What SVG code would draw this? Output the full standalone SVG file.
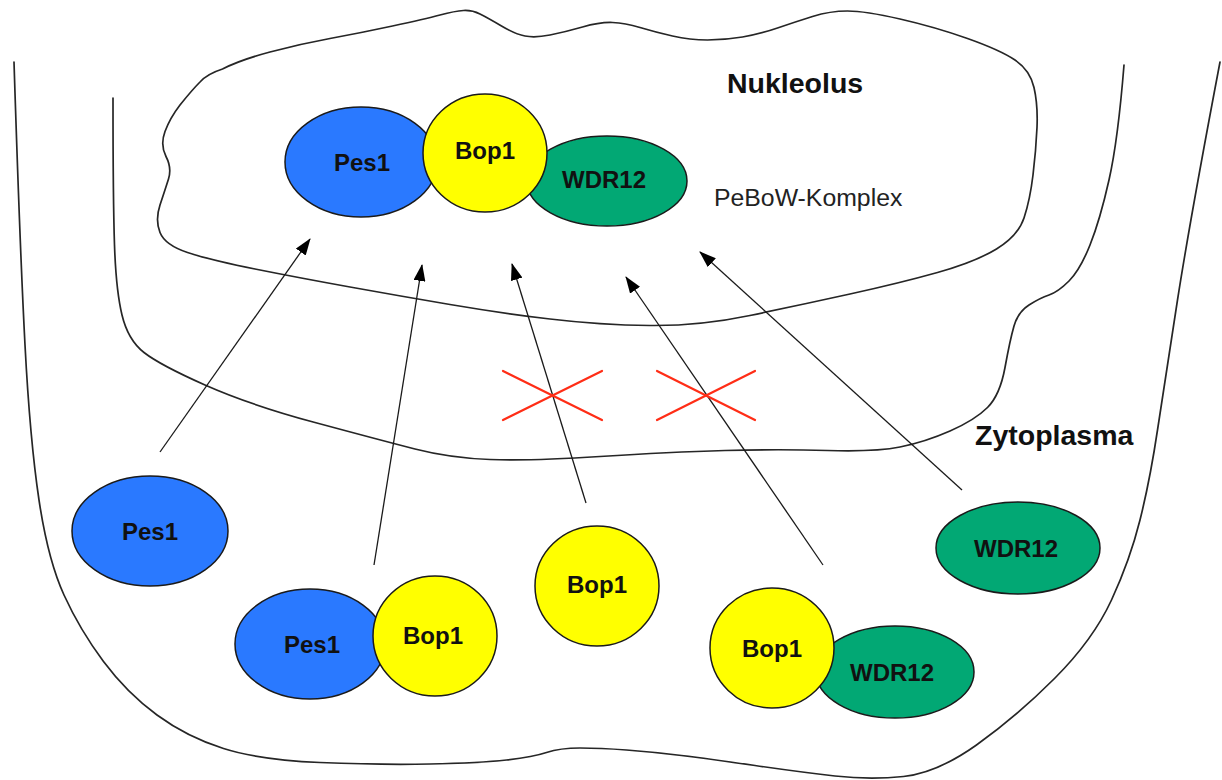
<svg xmlns="http://www.w3.org/2000/svg" width="1222" height="780" viewBox="0 0 1222 780">
<style>
.mem{fill:none;stroke:#262626;stroke-width:1.7;stroke-linejoin:round;stroke-linecap:round}
.blue{fill:#2a79ff;stroke:#1a1a1a;stroke-width:1.5}
.yellow{fill:#ffff00;stroke:#1a1a1a;stroke-width:1.5}
.green{fill:#02a874;stroke:#1a1a1a;stroke-width:1.5}
.lbl{font-family:"Liberation Sans",Arial,sans-serif;font-weight:bold;font-size:24px;fill:#111;text-anchor:middle}
.big{font-family:"Liberation Sans",Arial,sans-serif;font-weight:bold;font-size:28.5px;fill:#111}
.note{font-family:"Liberation Sans",Arial,sans-serif;font-size:24.8px;fill:#222}
.arr{stroke:#1a1a1a;stroke-width:1.3;fill:none}
.x{stroke:#ff2d16;stroke-width:2.2;stroke-linecap:round}
</style>
<defs>
<marker id="ah" viewBox="0 0 17 12" markerWidth="17" markerHeight="12" refX="16" refY="6" orient="auto" markerUnits="userSpaceOnUse">
<path d="M0,0 L17,6 L0,12 z" fill="#000"/>
</marker>
</defs>
<rect width="1222" height="780" fill="#fff"/>

<g id="cell">
<path class="mem" d="M14,62 Q20,250 25,345 Q30,440 39,500 Q48,560 64,595 Q80,630 103.5,661.5 Q127,693 157,715 Q187,737 223.5,748.5 Q260,760 320,762.5 Q380,765 430,764 Q480,763 506.5,760 Q533,757 546.5,752.5 Q560,748 580,748 Q600,748 626.5,750 Q653,752 681.5,755.5 Q710,759 755,765.5 Q800,772 835,776 Q870,780 903.5,776.5 Q937,773 976.5,745 Q1016,717 1054.5,678.5 Q1093,640 1111.5,600 Q1130,560 1140,520 Q1150,480 1157.5,430 Q1165,380 1177.5,300 Q1190,220 1220,62"/>
</g>
<g id="nucleus">
<path class="mem" d="M113,98 Q113,200 114.5,245 Q116,290 122,315 Q128,340 144,352.5 Q160,365 205,385 Q250,405 315,422.5 Q380,440 415,449 Q450,458 490,459.5 Q530,461 600,456.5 Q670,452 725,450.5 Q780,449 827.5,450.5 Q875,452 900,447 Q925,442 950,431 Q975,420 987.5,407.5 Q1000,395 1005,367.5 Q1010,340 1014,326 Q1018,312 1029,305 Q1040,298 1049,295 Q1058,292 1069,281 Q1080,270 1090,245 Q1100,220 1109,180 Q1118,140 1124,65"/>
</g>
<g id="nucleolus">
<path class="mem" d="M200,82 Q207,74 222.5,69 Q240,60 270,52 Q300,44 330,38.5 Q360,33 392.5,26 Q425,19 440,15 Q455,11 463.5,10.5 Q472,10 480,14 Q488,18 501.5,26 Q515,34 525,36 Q535,38 550,35 Q565,32 582.5,27 Q600,22 612.5,22.5 Q625,23 640,27.5 Q655,32 672.5,36 Q690,40 707.5,40 Q725,40 742.5,37 Q760,34 777.5,28 Q795,22 812.5,16.5 Q830,11 847.5,11 Q865,11 900,19 Q935,27 967.5,38.5 Q1000,50 1015,60 Q1030,70 1034,87.5 Q1038,105 1037,127.5 Q1036,150 1033,175 Q1030,200 1024,218 Q1018,236 996.5,249 Q975,262 937.5,272.5 Q900,283 850,294 Q800,305 750,315.5 Q700,326 650,325.5 Q600,325 550,319 Q500,313 450,304.5 Q400,296 350,287 Q300,278 255,269 Q210,260 187.5,252.5 Q165,245 160,232.5 Q155,220 160,205 Q165,190 168.5,179 Q172,168 166,156.5 Q160,145 165,131.5 Q170,118 180,105 Q192,90 200,82 Z"/>
</g>

<g id="labels">
<text class="big" x="727" y="93">Nukleolus</text>
<text class="big" x="975" y="445">Zytoplasma</text>
<text class="note" x="714" y="206">PeBoW-Komplex</text>
</g>

<g id="connectors">
<line class="arr" x1="160" y1="452" x2="310" y2="239" marker-end="url(#ah)"/>
<line class="arr" x1="374" y1="565" x2="422" y2="265" marker-end="url(#ah)"/>
<line class="arr" x1="586" y1="503" x2="512" y2="264" marker-end="url(#ah)"/>
<line class="arr" x1="823" y1="565" x2="626" y2="277" marker-end="url(#ah)"/>
<line class="arr" x1="962" y1="490" x2="700" y2="252" marker-end="url(#ah)"/>
</g>

<g id="block1">
<line class="x" x1="503" y1="371" x2="602" y2="420"/>
<line class="x" x1="503" y1="420" x2="602" y2="371"/>
</g>
<g id="block2">
<line class="x" x1="657" y1="371" x2="755" y2="420"/>
<line class="x" x1="657" y1="420" x2="755" y2="371"/>
</g>

<g id="complex">
<ellipse class="blue" cx="361" cy="162" rx="76" ry="55"/>
<ellipse class="green" cx="607" cy="181" rx="80" ry="45"/>
<ellipse class="yellow" cx="485" cy="153" rx="62" ry="59"/>
<text class="lbl" x="362" y="171">Pes1</text>
<text class="lbl" x="485" y="159">Bop1</text>
<text class="lbl" x="604" y="188">WDR12</text>
</g>

<g id="pes1-free">
<ellipse class="blue" cx="150" cy="531" rx="78" ry="55"/>
<text class="lbl" x="150" y="540">Pes1</text>
</g>
<g id="pes1-bop1">
<ellipse class="blue" cx="310" cy="644" rx="75" ry="55"/>
<ellipse class="yellow" cx="435" cy="636" rx="62" ry="60"/>
<text class="lbl" x="312" y="653">Pes1</text>
<text class="lbl" x="433" y="644">Bop1</text>
</g>
<g id="bop1-free">
<ellipse class="yellow" cx="597" cy="586" rx="62" ry="60"/>
<text class="lbl" x="597" y="593">Bop1</text>
</g>
<g id="bop1-wdr12">
<ellipse class="green" cx="895" cy="672" rx="79" ry="46"/>
<ellipse class="yellow" cx="772" cy="648" rx="62" ry="60"/>
<text class="lbl" x="772" y="657">Bop1</text>
<text class="lbl" x="892" y="681">WDR12</text>
</g>
<g id="wdr12-free">
<ellipse class="green" cx="1018" cy="548" rx="82" ry="46"/>
<text class="lbl" x="1016" y="557">WDR12</text>
</g>
</svg>
